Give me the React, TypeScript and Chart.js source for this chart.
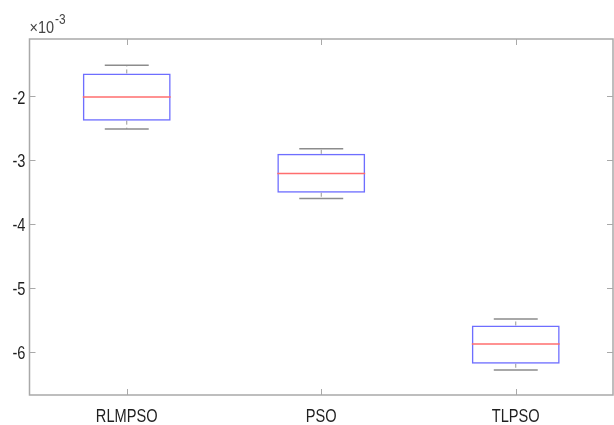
import { useEffect, useRef } from "react";
import { Chart, registerables } from "chart.js";

Chart.register(...registerables);

// Values are in units of 1e-3 (as displayed with the ×10^-3 axis multiplier)
const categories = ["RLMPSO", "PSO", "TLPSO"];
const whiskerMax = [-1.51, -2.82, -5.49];
const q3Values = [-1.64, -2.9, -5.59];
const medianValues = [-2.01, -3.21, -5.88];
const q1Values = [-2.38, -3.51, -6.19];
const whiskerMin = [-2.51, -3.6, -6.29];
const yTicks = [-6, -5, -4, -3, -2];
const yMin = -6.68;
const yMax = -1.1;
const exponentText = "-3";

const AXIS_COLOR = "#a9a9a9";
const TEXT_COLOR = "#1f1f1f";
const SX = 0.77;

function drawText(ctx: CanvasRenderingContext2D, text: string, x: number, y: number, sx: number) {
  ctx.save();
  ctx.translate(x, y);
  ctx.scale(sx, 1);
  ctx.fillText(text, 0, 0);
  ctx.restore();
}

const boxPlugin = {
  id: "boxDecor",
  afterDatasetsDraw(chart: any) {
    const ctx: CanvasRenderingContext2D = chart.ctx;
    const xs = chart.scales.x;
    const ys = chart.scales.y;
    const meta = chart.getDatasetMeta(0);
    ctx.save();
    categories.forEach((_, i) => {
      const bar = meta.data[i];
      const cx = xs.getPixelForValue(i);
      const half = bar ? bar.width / 2 : 44;
      // median
      ctx.strokeStyle = "rgb(255,110,110)";
      ctx.lineWidth = 1.5;
      ctx.setLineDash([]);
      const my = ys.getPixelForValue(medianValues[i]);
      ctx.beginPath();
      ctx.moveTo(cx - half, my);
      ctx.lineTo(cx + half, my);
      ctx.stroke();
      // whiskers
      const yTop = ys.getPixelForValue(whiskerMax[i]);
      const yQ3 = ys.getPixelForValue(q3Values[i]);
      const yQ1 = ys.getPixelForValue(q1Values[i]);
      const yBot = ys.getPixelForValue(whiskerMin[i]);
      ctx.strokeStyle = "rgb(150,150,150)";
      ctx.lineWidth = 1;
      ctx.setLineDash([4, 3]);
      ctx.beginPath();
      ctx.moveTo(cx, yQ3);
      ctx.lineTo(cx, yTop);
      ctx.moveTo(cx, yQ1);
      ctx.lineTo(cx, yBot);
      ctx.stroke();
      ctx.setLineDash([]);
      ctx.lineWidth = 1.5;
      ctx.strokeStyle = "rgb(140,140,140)";
      const capHalf = half / 2;
      ctx.beginPath();
      ctx.moveTo(cx - capHalf, yTop);
      ctx.lineTo(cx + capHalf, yTop);
      ctx.moveTo(cx - capHalf, yBot);
      ctx.lineTo(cx + capHalf, yBot);
      ctx.stroke();
    });
    ctx.restore();
  },
  afterDraw(chart: any) {
    const ctx: CanvasRenderingContext2D = chart.ctx;
    const xs = chart.scales.x;
    const ys = chart.scales.y;
    const { left, right, top, bottom } = chart.chartArea;
    ctx.save();
    // axes box
    ctx.strokeStyle = AXIS_COLOR;
    ctx.lineWidth = 1.5;
    ctx.strokeRect(left, top, right - left, bottom - top);
    // ticks
    ctx.lineWidth = 1;
    const tl = 6;
    ctx.beginPath();
    yTicks.forEach((v) => {
      const y = Math.round(ys.getPixelForValue(v)) + 0.5;
      ctx.moveTo(left, y);
      ctx.lineTo(left + tl, y);
      ctx.moveTo(right, y);
      ctx.lineTo(right - tl, y);
    });
    categories.forEach((_, i) => {
      const x = Math.round(xs.getPixelForValue(i)) + 0.5;
      ctx.moveTo(x, bottom);
      ctx.lineTo(x, bottom - tl);
      ctx.moveTo(x, top);
      ctx.lineTo(x, top + tl);
    });
    ctx.stroke();
    // labels
    ctx.fillStyle = TEXT_COLOR;
    ctx.font = "19px 'Liberation Sans', Arial, sans-serif";
    ctx.textAlign = "right";
    ctx.textBaseline = "middle";
    yTicks.forEach((v) => {
      const y = ys.getPixelForValue(v) + 2;
      drawText(ctx, String(v), left - 4, y, SX);
    });
    ctx.textAlign = "center";
    ctx.textBaseline = "alphabetic";
    categories.forEach((c, i) => {
      drawText(ctx, c, xs.getPixelForValue(i), 422, SX);
    });
    // exponent
    ctx.textAlign = "left";
    ctx.font = "17px 'Liberation Sans', Arial, sans-serif";
    ctx.fillStyle = "#444444";
    drawText(ctx, "\u00d710", left, 33, 0.85);
    const w = ctx.measureText("\u00d710").width * 0.85;
    ctx.font = "14px 'Liberation Sans', Arial, sans-serif";
    drawText(ctx, exponentText, left + w + 1, 24, 0.85);
    ctx.restore();
  },
};

export default function App() {
  const ref = useRef<HTMLCanvasElement | null>(null);
  useEffect(() => {
    document.body.style.margin = "0";
    const canvas = ref.current;
    if (!canvas) return;
    const chart = new Chart(canvas, {
      type: "bar",
      data: {
        labels: categories,
        datasets: [
          {
            data: categories.map((_, i) => [q1Values[i], q3Values[i]]) as any,
            backgroundColor: "rgba(0,0,0,0)",
            borderColor: "rgb(110,110,255)",
            borderWidth: 1.5,
            borderSkipped: false,
            barPercentage: 0.452,
            categoryPercentage: 1,
          },
        ],
      },
      options: {
        responsive: false,
        maintainAspectRatio: false,
        animation: false,
        devicePixelRatio: 1,
        layout: { padding: { left: 29.5, top: 39, right: 1, bottom: 30 } },
        plugins: { legend: { display: false }, tooltip: { enabled: false } },
        scales: {
          x: { type: "category", display: false, offset: true },
          y: { type: "linear", display: false, min: yMin, max: yMax },
        },
      },
      plugins: [boxPlugin],
    });
    return () => chart.destroy();
  }, []);
  return (
    <div style={{ width: 614, height: 425, background: "#fff" }}>
      <canvas ref={ref} width={614} height={425} style={{ display: "block" }} />
    </div>
  );
}
